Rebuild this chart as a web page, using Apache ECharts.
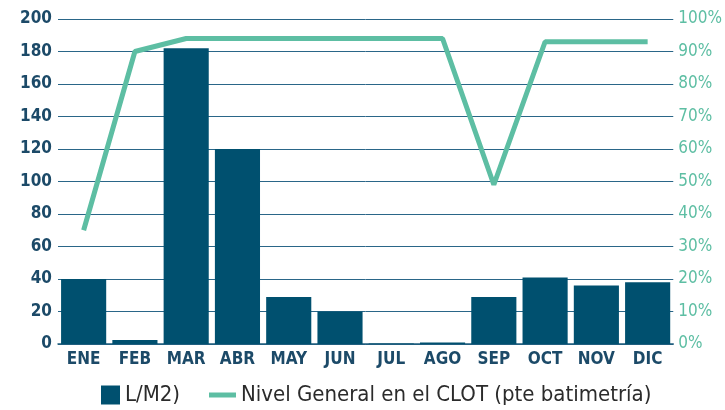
<!DOCTYPE html>
<html>
<head>
<meta charset="utf-8">
<script src="https://cdn.jsdelivr.net/npm/echarts@6/dist/echarts.min.js"></script>
<style>
  html, body { margin: 0; padding: 0; background: #fff; }
  #chart { width: 725px; height: 410px; }
</style>
</head>
<body>
<div id="chart"></div>
<script>
// meses y datos
const months = ["ENE", "FEB", "MAR", "ABR", "MAY", "JUN", "JUL", "AGO", "SEP", "OCT", "NOV", "DIC"];
const lluvia = [40, 2.5, 182, 120, 29, 20, 0.3, 1, 29, 41, 36, 38];
const nivel = [35, 90, 94, 94, 94, 94, 94, 94, 49, 93, 93, 93];

const font = "'Liberation Sans Narrow', 'DejaVu Sans Condensed', sans-serif";
const azul = "#00506f";
const verde = "#5dbea3";
const legendText = { fontFamily: font, fontSize: 22, color: "#2b2b2b" };

let myChart = echarts.init(document.getElementById("chart"));
myChart.setOption({
  animation: false,
  grid: { left: 58, right: 44, top: 19, bottom: 66 },
  legend: [
    {
      left: 96,
      top: 379,
      itemWidth: 19,
      itemHeight: 19,
      itemGap: 8,
      textStyle: legendText,
      data: [{ name: "L/M2)", icon: "rect", itemStyle: { color: azul } }]
    },
    {
      left: 204,
      top: 379,
      itemWidth: 27,
      itemHeight: 5,
      textStyle: legendText,
      data: [{ name: "Nivel General en el CLOT (pte batimetría)", icon: "rect", itemStyle: { color: verde } }]
    }
  ],
  xAxis: {
    type: "category",
    data: months,
    axisTick: { show: false },
    axisLine: { lineStyle: { color: "#1e5c7c", width: 1.5 } },
    axisLabel: { fontFamily: font, fontSize: 17, fontWeight: "bold", color: "#1c4a68", margin: 7 }
  },
  yAxis: [
    {
      type: "value",
      min: 0,
      max: 200,
      interval: 20,
      axisLine: { show: false },
      axisTick: { show: false },
      splitLine: { lineStyle: { color: "#2a6688", width: 1 } },
      axisLabel: { fontFamily: font, fontSize: 17, fontWeight: "bold", color: "#1c4a68", margin: 6 }
    },
    {
      type: "value",
      min: 0,
      max: 100,
      interval: 10,
      axisLine: { show: false },
      axisTick: { show: false },
      splitLine: { show: false },
      axisLabel: { fontFamily: font, fontSize: 17, color: verde, margin: 5, formatter: "{value}%" }
    }
  ],
  series: [
    {
      name: "L/M2)",
      type: "bar",
      data: lluvia,
      barCategoryGap: "12%",
      itemStyle: { color: azul }
    },
    {
      name: "Nivel General en el CLOT (pte batimetría)",
      type: "line",
      yAxisIndex: 1,
      data: nivel,
      symbol: "none",
      lineStyle: { color: verde, width: 5 },
      itemStyle: { color: verde }
    }
  ]
});
</script>
</body>
</html>
